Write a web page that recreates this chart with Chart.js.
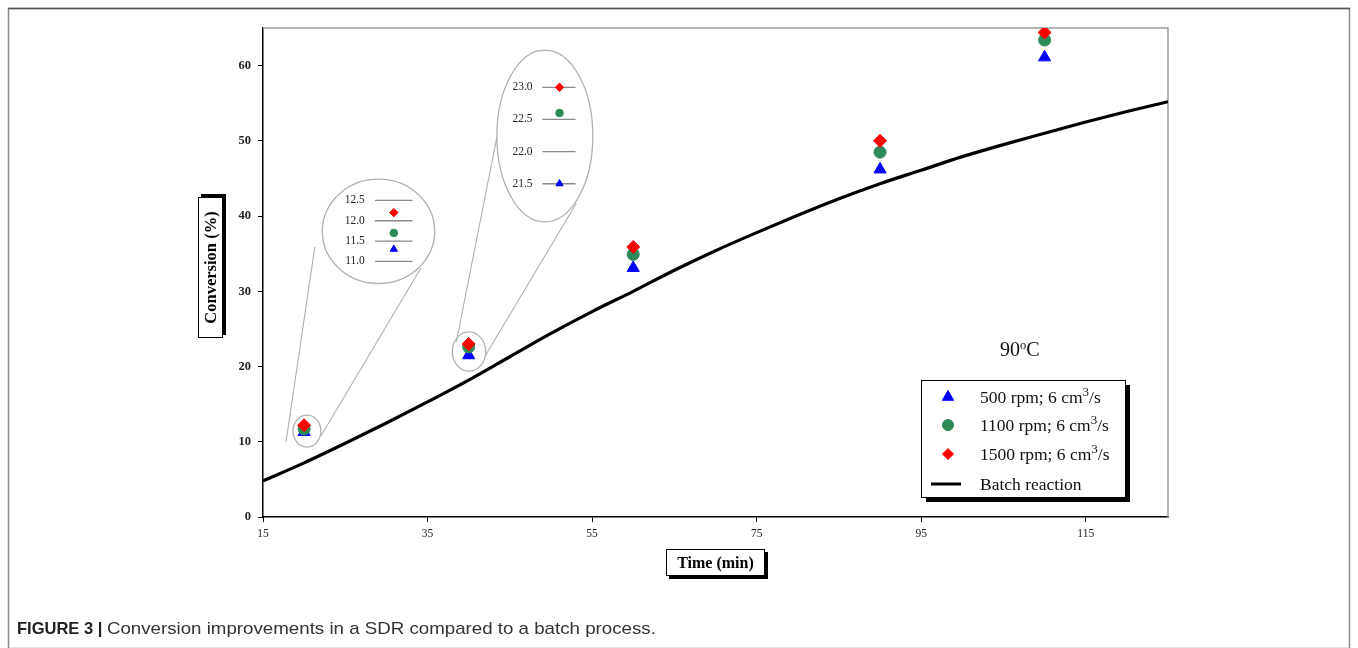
<!DOCTYPE html>
<html><head><meta charset="utf-8">
<script src="https://cdn.jsdelivr.net/npm/chart.js@4/dist/chart.umd.min.js"></script>
<style>html,body{margin:0;padding:0;background:#fff;}canvas{display:block;}</style>
</head><body>
<canvas id="c" width="1358" height="648"></canvas>
<script>
// ---------------- DATA ----------------
const times = [20, 40, 60, 90, 110];
const conv500 = [11.3, 21.5, 33.1, 46.2, 61.1];
const conv1100 = [11.7, 22.6, 34.9, 48.5, 63.4];
const conv1500 = [12.2, 23.0, 35.9, 50.0, 64.4];
const batchTime = [15, 20, 25, 30, 35, 40, 45, 50, 55, 60, 65, 70, 75, 80, 85, 90, 95, 100, 105, 110, 115, 120, 125];
const batchConv = [4.8, 7.2, 9.8, 12.5, 15.3, 18.2, 21.3, 24.4, 27.3, 30.0, 32.8, 35.4, 37.8, 40.1, 42.3, 44.3, 46.1, 47.9, 49.5, 51.0, 52.5, 53.9, 55.2];
const xTicks = [15, 35, 55, 75, 95, 115];
const yTicks = [0, 10, 20, 30, 40, 50, 60];
const seriesLabels = ['500 rpm; 6 cm³/s', '1100 rpm; 6 cm³/s', '1500 rpm; 6 cm³/s', 'Batch reaction'];
const inset1Ticks = [11.0, 11.5, 12.0, 12.5];
const inset2Ticks = [21.5, 22.0, 22.5, 23.0];
const xTitle = 'Time (min)';
const yTitle = 'Conversion (%)';
const tempLabel = ['90', 'o', 'C'];
const captionBold = 'FIGURE 3 | ';
const captionText = 'Conversion improvements in a SDR compared to a batch process.';

// ---------------- LAYOUT / STYLE ----------------
const X_MIN = 15, X_MAX = 125, Y_MIN = 0, Y_MAX = 65;
const SERIF = '"Liberation Serif", "Times New Roman", serif';
const SANS = '"Liberation Sans", Arial, sans-serif';
const styles = [
  { style: 'triangle', color: '#0000FF', r: 7, ri: 4.2 },
  { style: 'circle', color: '#2E8B57', r: 6, ri: 3.8 },
  { style: 'rectRot', color: '#FF0000', r: 6.5, ri: 4.2 }
];
const seriesVals = [conv500, conv1100, conv1500];
// Zoom insets: placed in main-chart data units
const insets = [
  { idx: 0, scaleId: 'yIn1', ticks: inset1Ticks, lo: 11.0, hi: 12.5, loY: 33.98, hiY: 42.08,
    pointX: 30.9, labelX: 27.38, lineX: [28.6, 33.17],
    big: { cx: 29.04, cy: 37.97, rx: 6.83, ry: 6.93 }, small: { cx: 20.34, cy: 11.42, rx: 1.70, ry: 2.12 },
    links: [[17.8, 10.0, 21.3, 35.9], [22.0, 10.7, 34.2, 33.1]] },
  { idx: 1, scaleId: 'yIn2', ticks: inset2Ticks, lo: 21.5, hi: 23.0, loY: 44.3, hiY: 57.12,
    pointX: 51.04, labelX: 47.77, lineX: [48.98, 52.99],
    big: { cx: 49.26, cy: 50.64, rx: 5.83, ry: 11.42 }, small: { cx: 40.04, cy: 22.0, rx: 2.03, ry: 2.62 },
    links: [[38.5, 23.28, 43.43, 50.5], [42.06, 21.51, 53.07, 41.66]] }
];
function insetRange(ins) {
  const b = (ins.hiY - ins.loY) / (ins.hi - ins.lo);
  const a = ins.loY - b * ins.lo;
  return { min: (Y_MIN - a) / b, max: (Y_MAX - a) / b };
}

// ---------------- DATASETS ----------------
const datasets = [];
[2, 1, 0].forEach((k, n) => {
  datasets.push({
    type: 'scatter', label: seriesLabels[k],
    data: times.map((t, i) => ({ x: t, y: seriesVals[k][i] })),
    pointStyle: styles[k].style, pointRadius: styles[k].r, pointHoverRadius: styles[k].r,
    backgroundColor: styles[k].color, borderColor: styles[k].color, borderWidth: 1,
    xAxisID: 'x', yAxisID: 'y', order: n
  });
});
datasets.push({
  type: 'line', label: seriesLabels[3],
  data: batchTime.map((t, i) => ({ x: t, y: batchConv[i] })),
  borderColor: '#000', borderWidth: 3.2, pointRadius: 0, tension: 0.4,
  cubicInterpolationMode: 'monotone', fill: false, xAxisID: 'x', yAxisID: 'y', order: 5
});
insets.forEach((ins, j) => {
  [2, 1, 0].forEach((k, n) => {
    datasets.push({
      type: 'scatter', label: seriesLabels[k] + ' (zoom)',
      data: [{ x: ins.pointX, y: seriesVals[k][ins.idx] }],
      pointStyle: styles[k].style, pointRadius: styles[k].ri, pointHoverRadius: styles[k].ri,
      backgroundColor: styles[k].color, borderColor: styles[k].color, borderWidth: 1,
      xAxisID: 'x', yAxisID: ins.scaleId, order: 10 + j * 3 + n
    });
  });
});

// ---------------- HELPERS ----------------
function drawMarker(ctx, style, r, color, x, y) {
  ctx.save();
  ctx.fillStyle = color; ctx.strokeStyle = color; ctx.lineWidth = 1;
  if (Chart.helpers && Chart.helpers.drawPoint) {
    Chart.helpers.drawPoint(ctx, { pointStyle: style, radius: r, rotation: 0, borderWidth: 1 }, x, y);
  } else {
    ctx.beginPath();
    if (style === 'circle') ctx.arc(x, y, r, 0, Math.PI * 2);
    else if (style === 'triangle') { ctx.moveTo(x, y - r); ctx.lineTo(x + r * 0.866, y + r / 2); ctx.lineTo(x - r * 0.866, y + r / 2); ctx.closePath(); }
    else { ctx.moveTo(x, y - r); ctx.lineTo(x + r, y); ctx.lineTo(x, y + r); ctx.lineTo(x - r, y); ctx.closePath(); }
    ctx.fill(); ctx.stroke();
  }
  ctx.restore();
}
// draws text, rendering '³' as a raised '3'
function drawSupText(ctx, text, x, y, size) {
  const parts = text.split('³');
  let cx = x;
  parts.forEach((p, i) => {
    ctx.font = size + 'px ' + SERIF;
    ctx.fillText(p, cx, y); cx += ctx.measureText(p).width;
    if (i < parts.length - 1) {
      ctx.font = Math.round(size * 0.72) + 'px ' + SERIF;
      ctx.fillText('3', cx, y - size * 0.38); cx += ctx.measureText('3').width;
    }
  });
}

const decor = {
  id: 'decor',
  beforeDatasetsDraw(chart) {
    const { ctx, chartArea: ca } = chart;
    const xs = chart.scales.x, ys = chart.scales.y;
    ctx.save();
    // plot frame top & right
    ctx.strokeStyle = '#9a9a9a'; ctx.lineWidth = 1.5;
    ctx.beginPath();
    ctx.moveTo(ca.left, ca.top); ctx.lineTo(ca.right, ca.top); ctx.lineTo(ca.right, ca.bottom);
    ctx.stroke();
    insets.forEach(ins => {
      const yi = chart.scales[ins.scaleId];
      ctx.strokeStyle = '#b0b0b0'; ctx.lineWidth = 1.1;
      ins.links.forEach(l => {
        ctx.beginPath();
        ctx.moveTo(xs.getPixelForValue(l[0]), ys.getPixelForValue(l[1]));
        ctx.lineTo(xs.getPixelForValue(l[2]), ys.getPixelForValue(l[3]));
        ctx.stroke();
      });
      [ins.big, ins.small].forEach(e => {
        const cx = xs.getPixelForValue(e.cx), cy = ys.getPixelForValue(e.cy);
        const rx = Math.abs(xs.getPixelForValue(e.cx + e.rx) - cx);
        const ry = Math.abs(ys.getPixelForValue(e.cy + e.ry) - cy);
        ctx.beginPath(); ctx.ellipse(cx, cy, rx, ry, 0, 0, Math.PI * 2);
        ctx.strokeStyle = '#b0b0b0'; ctx.lineWidth = 1.3; ctx.stroke();
      });
      // inset tick lines + labels
      const x0 = xs.getPixelForValue(ins.lineX[0]), x1 = xs.getPixelForValue(ins.lineX[1]);
      const lx = xs.getPixelForValue(ins.labelX);
      ctx.font = '11.5px ' + SERIF; ctx.fillStyle = '#222'; ctx.textAlign = 'right'; ctx.textBaseline = 'middle';
      ins.ticks.forEach(t => {
        const py = yi.getPixelForValue(t);
        ctx.strokeStyle = '#8a8a8a'; ctx.lineWidth = 1.3;
        ctx.beginPath(); ctx.moveTo(x0, py); ctx.lineTo(x1, py); ctx.stroke();
        ctx.fillText(t.toFixed(1), lx, py);
      });
    });
    ctx.restore();
  },
  afterDraw(chart) {
    const { ctx, chartArea: ca } = chart;
    ctx.save();
    // outer figure frame
    ctx.strokeStyle = '#8c8c8c'; ctx.lineWidth = 1.5;
    ctx.strokeRect(8.5, 8.5, 1341, 640);
    ctx.strokeStyle = '#555'; ctx.lineWidth = 1.5;
    ctx.beginPath(); ctx.moveTo(8, 8.5); ctx.lineTo(1350, 8.5); ctx.stroke();

    // legend
    const w = 204, h = 117;
    const L = ca.right - 43 - w, T = ca.bottom - 20 - h;
    ctx.fillStyle = '#000'; ctx.fillRect(L + 5, T + 5, w, h);
    ctx.fillStyle = '#fff'; ctx.fillRect(L, T, w, h);
    ctx.strokeStyle = '#000'; ctx.lineWidth = 1; ctx.strokeRect(L + 0.5, T + 0.5, w, h);
    const rows = [17, 45, 74, 104];
    ctx.textAlign = 'left'; ctx.textBaseline = 'alphabetic';
    [0, 1, 2].forEach(k => {
      drawMarker(ctx, styles[k].style, k === 0 ? 6.5 : 5.5, styles[k].color, L + 27, T + rows[k]);
      ctx.fillStyle = '#111'; drawSupText(ctx, seriesLabels[k], L + 59, T + rows[k] + 6, 17.5);
    });
    ctx.strokeStyle = '#000'; ctx.lineWidth = 3;
    ctx.beginPath(); ctx.moveTo(L + 10, T + rows[3]); ctx.lineTo(L + 40, T + rows[3]); ctx.stroke();
    ctx.fillStyle = '#111'; drawSupText(ctx, seriesLabels[3], L + 59, T + rows[3] + 6, 17.5);

    // temperature label
    ctx.font = '20px ' + SERIF; ctx.textBaseline = 'alphabetic'; ctx.fillStyle = '#111';
    let tx = L + 79, ty = T - 24;
    ctx.fillText(tempLabel[0], tx, ty); tx += ctx.measureText(tempLabel[0]).width;
    ctx.font = '12.5px ' + SERIF; ctx.fillText(tempLabel[1], tx, ty - 7.5); tx += ctx.measureText(tempLabel[1]).width;
    ctx.font = '20px ' + SERIF; ctx.fillText(tempLabel[2], tx, ty);

    // x title box
    const xcx = (ca.left + ca.right) / 2, xcy = 562.5;
    ctx.font = 'bold 16px ' + SERIF;
    const xw = 99, xh = 27;
    ctx.fillStyle = '#000'; ctx.fillRect(xcx - xw / 2 + 3, xcy - xh / 2 + 3, xw, xh);
    ctx.fillStyle = '#fff'; ctx.fillRect(xcx - xw / 2, xcy - xh / 2, xw, xh);
    ctx.strokeStyle = '#000'; ctx.lineWidth = 1; ctx.strokeRect(xcx - xw / 2 + 0.5, xcy - xh / 2 + 0.5, xw - 1, xh - 1);
    ctx.fillStyle = '#000'; ctx.textAlign = 'center'; ctx.textBaseline = 'middle';
    ctx.fillText(xTitle, xcx, xcy + 1);

    // y title box (rotated)
    const ycx = 210.5, ycy = 267.5, yw = 25, yh = 141;
    ctx.fillStyle = '#000'; ctx.fillRect(ycx - yw / 2 + 3, ycy - yh / 2 - 3, yw, yh);
    ctx.fillStyle = '#fff'; ctx.fillRect(ycx - yw / 2, ycy - yh / 2, yw, yh);
    ctx.strokeRect(ycx - yw / 2 + 0.5, ycy - yh / 2 + 0.5, yw - 1, yh - 1);
    ctx.save(); ctx.translate(ycx + 1, ycy); ctx.rotate(-Math.PI / 2);
    ctx.fillStyle = '#000'; ctx.font = 'bold 16.5px ' + SERIF;
    ctx.fillText(yTitle, 0, 0);
    ctx.restore();

    // caption
    ctx.textAlign = 'left'; ctx.textBaseline = 'alphabetic';
    ctx.font = 'bold 16.5px ' + SANS; ctx.fillStyle = '#222';
    ctx.fillText(captionBold, 17, 634);
    const bw = ctx.measureText(captionBold).width;
    ctx.font = '17px ' + SANS; ctx.fillStyle = '#333';
    const tw = ctx.measureText(captionText).width;
    const target = 549;
    ctx.save(); ctx.translate(17 + bw, 634); ctx.scale(target / tw, 1);
    ctx.fillText(captionText, 0, 0);
    ctx.restore();
    ctx.restore();
  }
};

const scales = {
  x: {
    type: 'linear', min: X_MIN, max: X_MAX, position: 'bottom',
    afterBuildTicks: s => { s.ticks = xTicks.map(v => ({ value: v })); },
    afterFit: s => { s.height = 131; },
    ticks: { color: '#222', font: { family: SERIF, size: 11.5 }, padding: 5, maxRotation: 0, autoSkip: false },
    grid: { drawOnChartArea: false, drawTicks: true, tickLength: 5, color: '#000', tickWidth: 1 },
    border: { color: '#000', width: 1.5 }
  },
  y: {
    type: 'linear', min: Y_MIN, max: Y_MAX, position: 'left',
    afterBuildTicks: s => { s.ticks = yTicks.map(v => ({ value: v })); },
    afterFit: s => { s.width = 263; },
    ticks: { color: '#222', font: { family: SERIF, size: 12.5, weight: 'bold' }, padding: 7 },
    grid: { drawOnChartArea: false, drawTicks: true, tickLength: 5, color: '#000', tickWidth: 1 },
    border: { color: '#000', width: 1.5 }
  }
};
insets.forEach(ins => {
  const r = insetRange(ins);
  scales[ins.scaleId] = { type: 'linear', display: false, min: r.min, max: r.max, position: 'left' };
});

new Chart(document.getElementById('c'), {
  data: { datasets },
  options: {
    responsive: false, animation: false, devicePixelRatio: 1,
    layout: { padding: { left: 0, top: 28, right: 190, bottom: 0 } },
    plugins: { legend: { display: false }, tooltip: { enabled: false } },
    scales
  },
  plugins: [decor]
});
</script>
</body></html>
